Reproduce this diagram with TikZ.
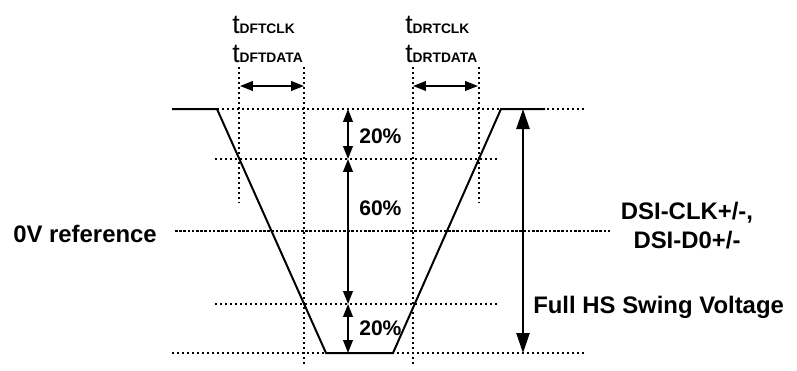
\documentclass[tikz,border=0pt]{standalone}
\usepackage{fontspec}
\setmainfont{Liberation Sans}
\usetikzlibrary{arrows.meta}
\newcommand{\tsub}[1]{{\fontsize{19}{20}\selectfont\mdseries t}\raisebox{-0.4pt}{\fontsize{9.8}{11}\selectfont #1}}

\begin{document}
\begin{tikzpicture}[x=0.025cm, y=-0.025cm,
  wave/.style={black, line width=0.5mm, line join=miter},
  guide/.style={black, line width=0.45mm, dash pattern=on 0.45mm off 0.8mm},
  refline/.style={black, line width=0.45mm, dash pattern=on 0.65mm off 0.4mm},
  dim/.style={black, line width=0.4mm, {Triangle[length=3.2mm,width=2.4mm]}-{Triangle[length=3.2mm,width=2.4mm]}},
  swing/.style={black, line width=0.45mm, {Triangle[length=5mm,width=3.3mm]}-{Triangle[length=5mm,width=3.3mm]}},
  lbl/.style={font=\fontsize{17}{20}\selectfont\bfseries, inner sep=0pt},
  pct/.style={font=\fontsize{15}{18}\selectfont\bfseries, inner sep=0pt, anchor=base west}]

\useasboundingbox (0,0) rectangle (797,370);

% === Guide lines ===
\draw[guide] (217,109) -- (587,109); % 100%
\draw[guide] (215,159) -- (498,159); % 80%
\draw[guide] (215,304) -- (498,304); % 20%
\draw[guide] (172,353) -- (587,353); % 0%
\draw[refline] (175,231) -- (610,231); % 0V reference

\draw[guide] (239,67) -- (239,203);
\draw[guide] (304,67) -- (304,367);
\draw[guide] (413,67) -- (413,367);
\draw[guide] (479,67) -- (479,203);

% === Waveform ===
\coordinate (hiL) at (172,109);
\coordinate (fallTop) at (217,109);
\coordinate (fallBot) at (326,353);
\coordinate (riseBot) at (393,353);
\coordinate (riseTop) at (501,109);
\coordinate (hiR) at (545,109);
\draw[wave] (hiL) -- (fallTop) -- (fallBot) -- (riseBot) -- (riseTop) -- (hiR);

% === Transition times ===
\node[lbl, anchor=base west] (tdftclk) at (232,33) {\tsub{DFTCLK}};
\node[lbl, anchor=base west] (tdftdata) at (232,62) {\tsub{DFTDATA}};
\node[lbl, anchor=base west] (tdrtclk) at (405,33) {\tsub{DRTCLK}};
\node[lbl, anchor=base west] (tdrtdata) at (405,62) {\tsub{DRTDATA}};

\coordinate (fallA) at (240,86);
\coordinate (fallB) at (304,86);
\coordinate (riseA) at (413,86);
\coordinate (riseB) at (478,86);
\draw[dim] (fallA) -- (fallB);
\draw[dim] (riseA) -- (riseB);

% === Level split ===
\coordinate (lvTop) at (348,109);
\coordinate (lvHi) at (348,159);
\coordinate (lvLo) at (348,304);
\coordinate (lvBot) at (348,353);
\draw[dim] (lvTop) -- (lvHi);
\draw[dim] (lvHi) -- (lvLo);
\draw[dim] (lvLo) -- (lvBot);

\node[pct] (pcttop) at (359,143) {20\%};
\node[pct] (pctmid) at (359,215) {60\%};
\node[pct] (pctbot) at (359,335) {20\%};

% === Full swing ===
\coordinate (swTop) at (523,109);
\coordinate (swBot) at (523,353);
\draw[swing] (swTop) -- (swBot);

% === Labels ===
\node[lbl, anchor=base west] (zeroref) at (13,242) {0V reference};
\node[lbl, anchor=base, align=center] (dsilbl) at (687,248)
     {DSI-CLK+/-,\\DSI-D0+/-};
\node[lbl, anchor=base west] (swinglbl) at (533,313) {Full HS Swing Voltage};

\end{tikzpicture}
\end{document}
